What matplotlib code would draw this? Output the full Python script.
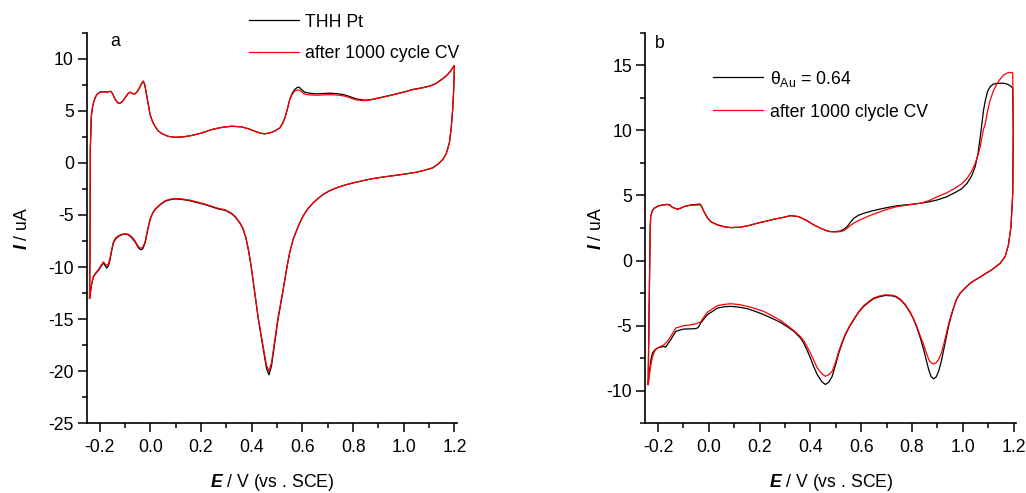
import matplotlib
matplotlib.use("Agg")
import matplotlib.pyplot as plt
from matplotlib.ticker import MultipleLocator

plt.rcParams["font.family"] = ["Liberation Sans", "DejaVu Sans"]
plt.rcParams["font.size"] = 12.7
plt.rcParams["axes.unicode_minus"] = False
plt.rcParams["mathtext.fontset"] = "custom"
plt.rcParams["mathtext.rm"] = "Liberation Sans"
plt.rcParams["mathtext.it"] = "Liberation Sans:italic"
plt.rcParams["mathtext.bf"] = "Liberation Sans:bold"
plt.rcParams["mathtext.bfit"] = "Liberation Sans:bold:italic"

# panel a: THH Pt, potential (V vs SCE) and current (uA), anodic then cathodic sweep
E_A = [-0.240, -0.238, -0.237, -0.233, -0.228, -0.224, -0.218, -0.211, -0.200, -0.191,
       -0.172, -0.163, -0.155, -0.147, -0.139, -0.130, -0.122, -0.110, -0.100, -0.088,
       -0.080, -0.070, -0.060, -0.050, -0.043, -0.035, -0.028, -0.022, -0.014, -0.007,
       -0.001, 0.008, 0.018, 0.030, 0.045, 0.070, 0.097, 0.130, 0.163, 0.200,
       0.242, 0.280, 0.320, 0.360, 0.390, 0.412, 0.435, 0.451, 0.472, 0.490,
       0.511, 0.522, 0.531, 0.540, 0.550, 0.560, 0.570, 0.580, 0.587, 0.596,
       0.609, 0.630, 0.655, 0.680, 0.707, 0.735, 0.760, 0.785, 0.812, 0.835,
       0.852, 0.875, 0.904, 0.935, 0.970, 1.000, 1.035, 1.070, 1.101, 1.125,
       1.140, 1.160, 1.173, 1.186, 1.196, 1.200,
       1.197, 1.193, 1.187, 1.180, 1.168, 1.154, 1.135, 1.114, 1.080, 1.049,
       1.010, 0.970, 0.920, 0.878, 0.840, 0.800, 0.765, 0.734, 0.705, 0.681,
       0.660, 0.642, 0.620, 0.602, 0.585, 0.563, 0.550, 0.539, 0.522, 0.504,
       0.487, 0.478, 0.468, 0.458, 0.446, 0.426, 0.412, 0.398, 0.388, 0.377,
       0.365, 0.353, 0.335, 0.320, 0.295, 0.268, 0.240, 0.215, 0.180, 0.150,
       0.120, 0.097, 0.075, 0.058, 0.040, 0.018, 0.008, -0.001, -0.010, -0.021,
       -0.030, -0.037, -0.047, -0.060, -0.073, -0.087, -0.100, -0.113, -0.126, -0.137,
       -0.146, -0.153, -0.159, -0.165, -0.172, -0.179, -0.185, -0.195, -0.205, -0.215,
       -0.224, -0.231, -0.237, -0.240]
I_A_THH = [-13.0, -8.0, 1.3, 4.5, 5.4, 5.8, 6.25, 6.57, 6.78, 6.83,
           6.79, 6.85, 6.86, 6.55, 6.09, 5.8, 5.7, 5.9, 6.25, 6.65,
           6.79, 6.65, 6.63, 6.9, 7.21, 7.6, 7.85, 7.5, 6.4, 5.4,
           4.64, 4.0, 3.52, 3.1, 2.82, 2.55, 2.46, 2.5, 2.63, 2.85,
           3.2, 3.4, 3.52, 3.46, 3.25, 3.04, 2.85, 2.79, 2.88, 3.05,
           3.36, 3.8, 4.33, 5.1, 6.09, 6.7, 7.05, 7.25, 7.27, 7.05,
           6.79, 6.68, 6.63, 6.66, 6.69, 6.65, 6.57, 6.38, 6.15, 6.05,
           6.02, 6.1, 6.25, 6.42, 6.63, 6.8, 7.05, 7.2, 7.37, 7.6,
           7.85, 8.2, 8.49, 8.85, 9.23, 9.35,
           7.0, 5.12, 3.3, 1.92, 0.9, 0.32, -0.12, -0.48, -0.72, -0.9,
           -1.05, -1.19, -1.35, -1.51, -1.7, -1.92, -2.15, -2.4, -2.7, -3.05,
           -3.45, -3.85, -4.45, -5.13, -6.0, -7.37, -8.6, -10.0, -12.5, -15.0,
           -17.95, -19.5, -20.35, -19.7, -17.95, -15.0, -12.5, -10.0, -8.5, -7.2,
           -6.3, -5.77, -5.2, -4.87, -4.55, -4.42, -4.2, -4.0, -3.78, -3.6,
           -3.5, -3.46, -3.55, -3.69, -4.0, -4.49, -4.9, -5.45, -6.4, -7.7,
           -8.25, -8.34, -8.17, -7.6, -7.2, -6.9, -6.83, -6.9, -7.06, -7.3,
           -7.7, -8.5, -9.3, -9.85, -10.1, -9.85, -9.6, -9.95, -10.33, -10.6,
           -10.9, -11.55, -12.5, -13.0]
I_A_CYCLED = [-13.0, -8.0, 1.3, 4.5, 5.4, 5.8, 6.25, 6.57, 6.78, 6.83,
              6.79, 6.85, 6.86, 6.55, 6.09, 5.8, 5.7, 5.9, 6.25, 6.65,
              6.79, 6.65, 6.63, 6.9, 7.21, 7.6, 7.85, 7.5, 6.4, 5.4,
              4.64, 4.0, 3.52, 3.1, 2.82, 2.55, 2.46, 2.5, 2.63, 2.85,
              3.2, 3.4, 3.52, 3.46, 3.25, 3.04, 2.85, 2.79, 2.88, 3.05,
              3.36, 3.8, 4.33, 5.1, 6.05, 6.6, 6.9, 7.0, 6.99, 6.85,
              6.6, 6.52, 6.5, 6.52, 6.55, 6.52, 6.45, 6.28, 6.05, 5.98,
              5.98, 6.07, 6.23, 6.4, 6.6, 6.78, 7.02, 7.18, 7.35, 7.58,
              7.83, 8.18, 8.47, 8.85, 9.23, 9.35,
              7.0, 5.12, 3.3, 1.92, 0.9, 0.32, -0.12, -0.48, -0.72, -0.9,
              -1.05, -1.19, -1.35, -1.51, -1.7, -1.92, -2.15, -2.4, -2.7, -3.05,
              -3.45, -3.85, -4.45, -5.13, -6.0, -7.37, -8.6, -10.0, -12.4, -14.8,
              -17.7, -19.2, -20.0, -19.4, -17.75, -14.9, -12.4, -9.95, -8.45, -7.15,
              -6.25, -5.72, -5.15, -4.82, -4.5, -4.37, -4.15, -3.95, -3.72, -3.55,
              -3.45, -3.42, -3.5, -3.64, -3.95, -4.45, -4.85, -5.4, -6.3, -7.6,
              -8.1, -8.2, -8.05, -7.5, -7.1, -6.85, -6.8, -6.85, -7.0, -7.2,
              -7.6, -8.35, -9.1, -9.65, -9.87, -9.7, -9.5, -9.85, -10.25, -10.55,
              -10.85, -11.5, -12.5, -13.0]

# panel b: Au-modified THH Pt
E_B = [-0.239, -0.236, -0.233, -0.231, -0.229, -0.223, -0.216, -0.200, -0.189, -0.163,
       -0.152, -0.143, -0.124, -0.110, -0.098, -0.071, -0.050, -0.035, -0.027, -0.019,
       -0.006, 0.007, 0.034, 0.060, 0.086, 0.125, 0.160, 0.191, 0.225, 0.256,
       0.290, 0.322, 0.354, 0.385, 0.413, 0.440, 0.465, 0.479, 0.500, 0.518,
       0.532, 0.545, 0.558, 0.571, 0.590, 0.610, 0.640, 0.676, 0.710, 0.741,
       0.790, 0.833, 0.870, 0.899, 0.935, 0.964, 0.995, 1.017, 1.035, 1.049,
       1.060, 1.069, 1.076, 1.082, 1.089, 1.098, 1.108, 1.120, 1.135, 1.150,
       1.161, 1.175, 1.185, 1.194, 1.197,
       1.199, 1.197, 1.190, 1.180, 1.167, 1.148, 1.115, 1.090, 1.069, 1.050,
       1.030, 1.010, 0.990, 0.975, 0.964, 0.954, 0.944, 0.935, 0.925, 0.915,
       0.905, 0.895, 0.885, 0.875, 0.866, 0.856, 0.846, 0.833, 0.820, 0.807,
       0.794, 0.775, 0.754, 0.738, 0.722, 0.695, 0.672, 0.649, 0.630, 0.610,
       0.590, 0.571, 0.555, 0.538, 0.525, 0.512, 0.500, 0.486, 0.472, 0.459,
       0.445, 0.427, 0.413, 0.400, 0.385, 0.374, 0.361, 0.335, 0.310, 0.282,
       0.250, 0.217, 0.185, 0.152, 0.120, 0.086, 0.060, 0.034, 0.015, -0.006,
       -0.020, -0.032, -0.042, -0.052, -0.075, -0.098, -0.115, -0.130, -0.140, -0.150,
       -0.163, -0.170, -0.176, -0.190, -0.202, -0.212, -0.222, -0.228, -0.233, -0.239]
I_B_AU = [-9.52, -5.0, 0.0, 2.5, 3.37, 3.8, 4.01, 4.18, 4.24, 4.32,
          4.25, 4.09, 3.94, 4.02, 4.14, 4.27, 4.3, 4.34, 4.1, 3.75,
          3.3, 2.99, 2.74, 2.6, 2.53, 2.56, 2.7, 2.87, 3.02, 3.17,
          3.3, 3.45, 3.37, 3.08, 2.74, 2.48, 2.28, 2.22, 2.22, 2.27,
          2.4, 2.61, 2.95, 3.25, 3.48, 3.63, 3.8, 3.96, 4.1, 4.21,
          4.3, 4.4, 4.52, 4.65, 4.88, 5.16, 5.5, 5.93, 6.5, 7.2,
          8.2, 9.5, 10.6, 11.55, 12.3, 13.0, 13.35, 13.55, 13.6, 13.62,
          13.62, 13.55, 13.45, 13.3, 13.25,
          10.0, 5.16, 2.61, 1.2, 0.3, -0.2, -0.71, -1.0, -1.27, -1.48,
          -1.73, -2.1, -2.5, -3.0, -3.65, -4.3, -5.06, -5.9, -6.84, -7.8,
          -8.5, -8.95, -9.09, -8.9, -8.38, -7.6, -6.84, -5.95, -5.18, -4.55,
          -4.03, -3.45, -3.01, -2.8, -2.71, -2.68, -2.78, -2.93, -3.2, -3.52,
          -3.98, -4.54, -5.05, -5.69, -6.35, -7.1, -7.95, -8.89, -9.35, -9.52,
          -9.3, -8.76, -8.15, -7.48, -6.8, -6.35, -5.95, -5.44, -5.1, -4.75,
          -4.45, -4.16, -3.92, -3.7, -3.58, -3.52, -3.55, -3.65, -3.9, -4.16,
          -4.5, -4.8, -5.15, -5.23, -5.25, -5.26, -5.35, -5.44, -5.75, -6.08,
          -6.45, -6.65, -6.6, -6.65, -6.71, -6.85, -7.1, -7.6, -8.4, -9.52]
I_B_CYCLED = [-9.52, -5.0, 0.0, 2.5, 3.37, 3.8, 4.01, 4.18, 4.24, 4.3,
              4.22, 4.07, 3.95, 4.03, 4.15, 4.25, 4.26, 4.28, 4.1, 3.75,
              3.3, 2.99, 2.74, 2.6, 2.53, 2.56, 2.7, 2.87, 3.02, 3.17,
              3.3, 3.45, 3.37, 3.08, 2.74, 2.48, 2.28, 2.22, 2.2, 2.22,
              2.3, 2.48, 2.7, 2.87, 3.08, 3.25, 3.5, 3.76, 3.98, 4.14,
              4.28, 4.4, 4.62, 4.9, 5.18, 5.49, 5.88, 6.31, 6.85, 7.46,
              8.1, 8.74, 9.5, 10.1, 10.53, 11.5, 12.3, 13.0, 13.6, 14.0,
              14.25, 14.4, 14.45, 14.43, 14.4,
              10.0, 5.16, 2.61, 1.2, 0.3, -0.2, -0.71, -1.0, -1.27, -1.48,
              -1.73, -2.1, -2.5, -3.0, -3.6, -4.2, -4.9, -5.65, -6.46, -7.15,
              -7.6, -7.85, -7.94, -7.85, -7.6, -7.05, -6.46, -5.8, -5.1, -4.5,
              -3.98, -3.4, -2.96, -2.75, -2.66, -2.63, -2.72, -2.88, -3.15, -3.47,
              -3.93, -4.49, -5.0, -5.62, -6.25, -6.95, -7.75, -8.5, -8.78, -8.89,
              -8.7, -8.25, -7.65, -7.1, -6.55, -6.15, -5.85, -5.38, -5.0, -4.6,
              -4.25, -3.91, -3.7, -3.52, -3.38, -3.32, -3.37, -3.47, -3.7, -3.98,
              -4.35, -4.7, -4.8, -4.87, -4.95, -5.0, -5.1, -5.18, -5.5, -5.82,
              -6.2, -6.35, -6.46, -6.6, -6.71, -6.9, -7.4, -8.0, -8.6, -9.52]

X_TICKS = [-0.2, 0.0, 0.2, 0.4, 0.6, 0.8, 1.0, 1.2]
Y_TICKS_A = [-25, -20, -15, -10, -5, 0, 5, 10]
Y_TICKS_B = [-10, -5, 0, 5, 10, 15]


def style_axes(ax, yticks, ylim):
    ax.set_xlim(-0.25, 1.21)
    ax.set_ylim(*ylim)
    ax.set_xticks(X_TICKS)
    ax.set_xticklabels([f"{t:.1f}" for t in X_TICKS])
    ax.set_yticks(yticks)
    ax.xaxis.set_minor_locator(MultipleLocator(0.1))
    ax.yaxis.set_minor_locator(MultipleLocator(2.5))
    for side in ["top", "right"]:
        ax.spines[side].set_visible(False)
    for side in ["left", "bottom"]:
        ax.spines[side].set_linewidth(1.2)
    ax.tick_params(which="major", direction="out", length=6.5, width=1.1)
    ax.tick_params(which="minor", direction="out", length=3.5, width=1.1)
    ax.tick_params(axis="x", which="major", pad=5)
    ax.tick_params(axis="y", which="major", pad=3)
    ax.set_xlabel(r"$\mathbfit{E}$ / V (vs . SCE)")
    ax.set_ylabel(r"$\mathbfit{I}$ / uA")
    ax.xaxis.set_label_coords(0.5, -0.125)


fig = plt.figure(figsize=(10.26, 4.93), dpi=100)
ax_a = fig.add_axes([0.0848, 0.1414, 0.3606, 0.7923])
ax_b = fig.add_axes([0.629, 0.1414, 0.3613, 0.7923])

ax_a.plot(E_A, I_A_THH, color="black", lw=0.9, label="THH Pt")
ax_a.plot(E_A, I_A_CYCLED, color="red", lw=0.9, label="after 1000 cycle CV")
style_axes(ax_a, Y_TICKS_A, (-25, 12.5))
ax_a.yaxis.set_label_coords(-0.152, 0.5)
ax_a.text(0.076, 0.977, "a", transform=ax_a.transAxes, ha="center", va="center")
ax_a.legend(loc="upper left", bbox_to_anchor=(0.438, 1.049), frameon=False,
            borderpad=0, borderaxespad=0, handlelength=2.85, handletextpad=0.35,
            labelspacing=0.82)

ax_b.plot(E_B, I_B_AU, color="black", lw=0.9, label="θ$_{\\mathrm{Au}}$ = 0.64")
ax_b.plot(E_B, I_B_CYCLED, color="red", lw=0.9, label="after 1000 clycle CV")
style_axes(ax_b, Y_TICKS_B, (-12.5, 17.5))
ax_b.yaxis.set_label_coords(-0.11, 0.5)
ax_b.text(0.038, 0.972, "b", transform=ax_b.transAxes, ha="center", va="center")
ax_b.legend(loc="upper left", bbox_to_anchor=(0.183, 0.908), frameon=False,
            borderpad=0, borderaxespad=0, handlelength=2.85, handletextpad=0.35,
            labelspacing=0.85)

fig.savefig("out.png", dpi=100)
